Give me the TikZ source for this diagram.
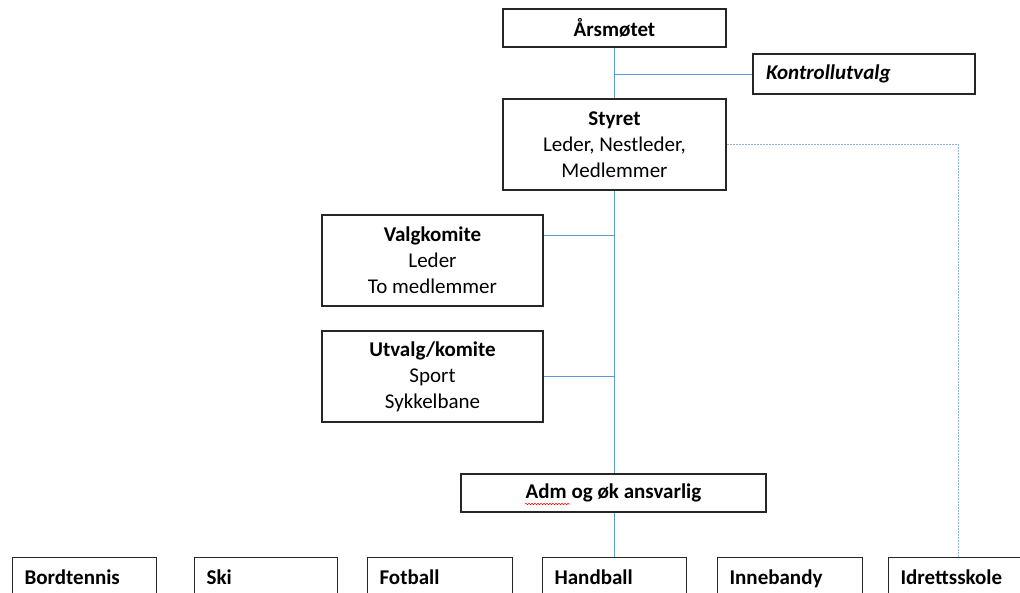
\documentclass[tikz,border=0pt]{standalone}
\usepackage{fontspec}
\setmainfont{Carlito}
\usetikzlibrary{decorations.pathmorphing}
\definecolor{lineblue}{HTML}{5B9BD5}
\definecolor{dotblue}{HTML}{8FB4DC}
\begin{document}
\begin{tikzpicture}[x=1pt,y=-1pt,
  box/.style={draw=black!85, line width=1.2pt, inner sep=0pt, align=center, font=\fontsize{21}{26}\selectfont},
  lbox/.style={draw=black!85, line width=1.2pt, anchor=north west, minimum height=43pt, inner xsep=12pt, inner ysep=0pt, font=\fontsize{21}{26}\selectfont\bfseries, align=left, execute at end node=\strut},
  conn/.style={draw=lineblue, line width=1pt},
  dotconn/.style={draw=dotblue, line width=1pt, dash pattern=on 2pt off 1pt}]
\useasboundingbox (0,0) rectangle (1020,592);
\clip (0,0) rectangle (1020,592);
\fill[white] (0,0) rectangle (1020,592);

\node[box, minimum width=223pt, minimum height=38pt] (ars) at (614.5,28) {\bfseries Årsmøtet};
\node[box, minimum width=222pt, minimum height=40pt, text width=196pt, align=left, inner xsep=13pt] (kon) at (864,74) {\bfseries\itshape Kontrollutvalg};
\node[box, minimum width=223pt, minimum height=91pt] (sty) at (614.5,144.5) {\textbf{Styret}\\Leder, Nestleder,\\Medlemmer};
\node[box, minimum width=221pt, minimum height=91pt] (val) at (432.5,260.5) {\textbf{Valgkomite}\\Leder\\To medlemmer};
\node[box, minimum width=221pt, minimum height=91pt] (utv) at (432.5,376.5) {\textbf{Utvalg/komite}\\Sport\\Sykkelbane};
\node[box, minimum width=305pt, minimum height=38pt] (adm) at (613.5,493) {\bfseries Adm og øk ansvarlig};

\node[lbox, text width=120pt] (bord) at (12,557) {Bordtennis};
\node[lbox, text width=119pt] (ski) at (194,557) {Ski};
\node[lbox, text width=121pt] (fot) at (367,557) {Fotball};
\node[lbox, text width=120pt] (hand) at (542,557) {Handball};
\node[lbox, text width=121pt] (inne) at (717,557) {Innebandy};
\node[lbox, text width=150pt] (idr) at (888,557) {Idrettsskole};

% connectors
\draw[conn] (ars.south) -- (sty.north);
\coordinate (jk) at (ars.south |- kon.west);
\draw[conn] (jk) -- (kon.west);
\draw[conn] (sty.south) -- (sty.south |- adm.north);
\draw[conn] ([yshift=25pt]val.east) -- ([yshift=25pt]val.east -| sty.south);
\draw[conn] (utv.east) -- (utv.east -| sty.south);
\draw[conn] (adm.south -| sty.south) -- (hand.north -| sty.south);
\coordinate (dc) at (958,144.5);
\draw[dotconn] (sty.east) -- (dc) -- (dc |- idr.north);

% spell-check underline
\draw[red, line width=0.5pt, decorate, decoration={snake, amplitude=0.8pt, segment length=3pt}] (525,504) -- (570,504);
\end{tikzpicture}
\end{document}
